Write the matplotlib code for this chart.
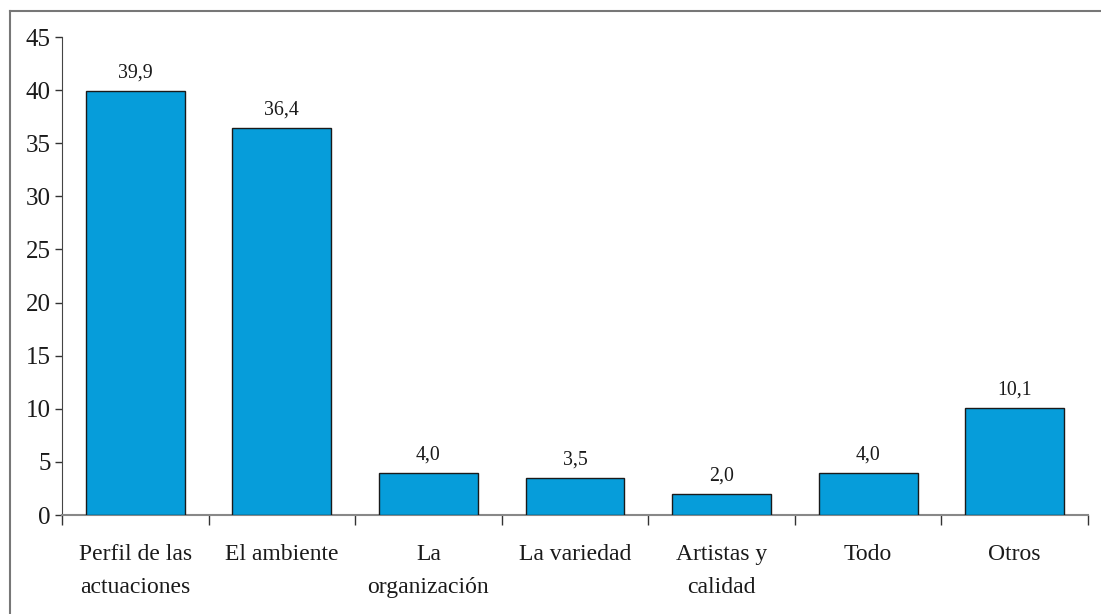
import matplotlib.pyplot as plt
from matplotlib.lines import Line2D

categories = ['Perfil de las\nactuaciones', 'El ambiente', 'La\norganización',
              'La variedad', 'Artistas y\ncalidad', 'Todo', 'Otros']
values = [39.9, 36.4, 4.0, 3.5, 2.0, 4.0, 10.1]
value_labels = ['39,9', '36,4', '4,0', '3,5', '2,0', '4,0', '10,1']
yticks = [0, 5, 10, 15, 20, 25, 30, 35, 40, 45]

plt.rcParams['font.family'] = ['Liberation Serif', 'DejaVu Serif']

fig = plt.figure(figsize=(11.01, 6.14), dpi=100)
ax = fig.add_axes([62 / 1101, 1 - 515 / 614, (1088 - 62) / 1101, (515 - 37) / 614])

x = list(range(len(categories)))
bars = ax.bar(x, values, width=0.675, color='#069dda', edgecolor='#1a1a1a', linewidth=1.0, zorder=3)
ax.bar_label(bars, labels=value_labels, padding=6, fontsize=14.3, color='#1a1a1a')

ax.set_xlim(-0.5, len(categories) - 0.5)
ax.set_ylim(0, 45)
ax.set_yticks(yticks)
ax.set_yticklabels([str(v) for v in yticks], fontsize=18, color='#1a1a1a')
ax.set_xticks(x)
ax.set_xticklabels(categories, fontsize=17, color='#1a1a1a', linespacing=1.76)
ax.set_xticks([i - 0.5 for i in range(len(categories) + 1)], minor=True)
ax.tick_params(axis='x', which='major', length=0, pad=21)
ax.tick_params(axis='x', which='minor', length=7, direction='out', color='#333333', width=1)
ax.tick_params(axis='y', length=5, direction='out', color='#333333', width=1, pad=3)

for side in ['top', 'right']:
    ax.spines[side].set_visible(False)
ax.spines['left'].set_color('#444444')
ax.spines['bottom'].set_color('#888888')
ax.spines['bottom'].set_linewidth(1.5)

# marco gris de la figura
fig.add_artist(Line2D([9.5 / 1101, 1.0], [1 - 10.5 / 614, 1 - 10.5 / 614], color='#777777', lw=1.5))
fig.add_artist(Line2D([9.5 / 1101, 9.5 / 1101], [0.0, 1 - 10.5 / 614], color='#777777', lw=1.5))

fig.savefig('out.png', dpi=100)
